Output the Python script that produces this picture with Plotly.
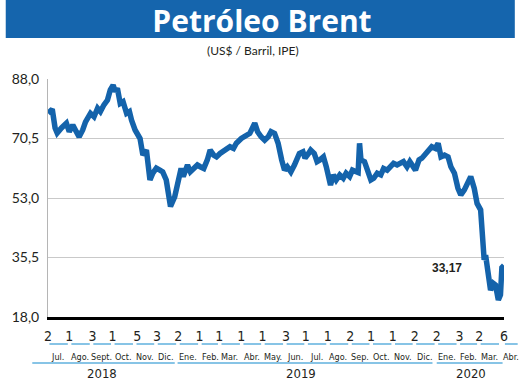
import plotly.graph_objects as go
import pandas as pd

# ---------------- data ----------------
dates = [
    "2018-07-02", "2018-07-08", "2018-07-12", "2018-07-15", "2018-07-21", "2018-07-28",
    "2018-08-01", "2018-08-06", "2018-08-11", "2018-08-15", "2018-08-20", "2018-08-24", "2018-08-31",
    "2018-09-05", "2018-09-10", "2018-09-14", "2018-09-19", "2018-09-24", "2018-09-28",
    "2018-10-02", "2018-10-05", "2018-10-08", "2018-10-12", "2018-10-16", "2018-10-21", "2018-10-25", "2018-10-28",
    "2018-11-02", "2018-11-09", "2018-11-13", "2018-11-18", "2018-11-23", "2018-11-27",
    "2018-12-02", "2018-12-07", "2018-12-11", "2018-12-16", "2018-12-22", "2018-12-28",
    "2019-01-03", "2019-01-06", "2019-01-09", "2019-01-15", "2019-01-19", "2019-01-24", "2019-01-29",
    "2019-02-02", "2019-02-07", "2019-02-12", "2019-02-16", "2019-02-21", "2019-02-25",
    "2019-03-02", "2019-03-09", "2019-03-16", "2019-03-21", "2019-03-25",
    "2019-04-01", "2019-04-08", "2019-04-13", "2019-04-20", "2019-04-24", "2019-04-29",
    "2019-05-04", "2019-05-09", "2019-05-13", "2019-05-18", "2019-05-23", "2019-05-28",
    "2019-06-01", "2019-06-05", "2019-06-10", "2019-06-15", "2019-06-19", "2019-06-22", "2019-06-27", "2019-06-30",
    "2019-07-05", "2019-07-08", "2019-07-13", "2019-07-17", "2019-07-21", "2019-07-26", "2019-07-30",
    "2019-08-02", "2019-08-05", "2019-08-09", "2019-08-13", "2019-08-18", "2019-08-23", "2019-08-27",
    "2019-09-01", "2019-09-05", "2019-09-10", "2019-09-13", "2019-09-15", "2019-09-17", "2019-09-22", "2019-09-26",
    "2019-10-01", "2019-10-05", "2019-10-10", "2019-10-15", "2019-10-19", "2019-10-24", "2019-10-29",
    "2019-11-02", "2019-11-07", "2019-11-12", "2019-11-16", "2019-11-21", "2019-11-25",
    "2019-12-03", "2019-12-08", "2019-12-12", "2019-12-17", "2019-12-22", "2019-12-26", "2019-12-31",
    "2020-01-04", "2020-01-06", "2020-01-08", "2020-01-13", "2020-01-18", "2020-01-22", "2020-01-27",
    "2020-02-01", "2020-02-05", "2020-02-10", "2020-02-14", "2020-02-19", "2020-02-24", "2020-02-28",
    "2020-03-04", "2020-03-06", "2020-03-09", "2020-03-11", "2020-03-13", "2020-03-16", "2020-03-18",
    "2020-03-22", "2020-03-25", "2020-03-29",
    "2020-04-01", "2020-04-02", "2020-04-03", "2020-04-06",
]
prices = [
    77.9, 79.1, 73.6, 72.1, 73.6, 75.0,
    72.5, 74.5, 72.5, 71.0, 73.0, 75.4, 77.9,
    76.9, 79.4, 78.4, 80.4, 81.8, 84.8,
    86.2, 84.3, 85.3, 80.8, 81.3, 77.9, 78.4, 75.9,
    73.0, 70.5, 65.6, 67.1, 58.3, 60.3,
    61.8, 61.2, 60.7, 58.3, 50.5, 53.4,
    58.3, 61.7, 59.3, 62.7, 60.7, 61.7, 62.7,
    62.2, 61.7, 64.2, 67.1, 65.6, 65.1,
    66.1, 67.1, 68.1, 67.6, 69.1,
    70.5, 71.5, 72.0, 75.0, 72.5, 71.0,
    70.0, 71.0, 72.5, 72.0, 69.1, 64.2,
    61.2, 62.2, 60.7, 62.7, 64.7, 66.1, 66.6, 64.7,
    66.1, 67.1, 66.1, 63.7, 64.2, 65.1, 62.2,
    59.8, 56.8, 59.8, 58.3, 59.8, 58.8, 60.3,
    59.3, 61.2, 60.7, 60.5, 69.1, 64.2, 63.7, 61.7,
    58.3, 58.8, 60.3, 59.8, 61.7, 61.2, 62.2,
    63.2, 62.7, 63.2, 63.7, 62.2, 63.7,
    61.2, 64.2, 64.7, 66.1, 67.1, 68.1, 67.6,
    69.1, 67.1, 65.1, 65.6, 65.1, 62.2, 60.3,
    55.8, 53.9, 55.4, 57.3, 59.3, 55.8, 51.4,
    49.5, 40.6, 34.8, 36.2, 32.8, 28.9, 25.9,
    27.9, 27.4, 23.0,
    24.5, 28.5, 32.5, 33.17,
]

tick_dates = [
    "2018-07-02", "2018-08-01", "2018-09-03", "2018-10-01", "2018-11-05", "2018-12-03",
    "2019-01-02", "2019-02-01", "2019-03-01", "2019-04-01", "2019-05-01", "2019-06-03",
    "2019-07-01", "2019-08-01", "2019-09-02", "2019-10-01", "2019-11-01", "2019-12-02",
    "2020-01-02", "2020-02-03", "2020-03-02", "2020-04-06",
]
tick_text = [str(int(d[-2:])) for d in tick_dates]

month_labels = ["Jul.", "Ago.", "Sept.", "Oct.", "Nov.", "Dic.", "Ene.", "Feb.", "Mar.", "Abr.",
                "May.", "Jun.", "Jul.", "Ago.", "Sep.", "Oct.", "Nov.", "Dic.", "Ene.", "Feb.",
                "Mar.", "Abr."]
year_labels = ["2018", "2019", "2020"]

y_ticks = [18.0, 35.5, 53.0, 70.5, 88.0]
y_tick_text = [f"{v:.1f}".replace(".", ",") for v in y_ticks]

# ---------------- styling ----------------
BLUE = "#1463ab"
BANNER = "#1565ad"
UNDER = "#5fb0de"
TXT = "#231f20"
NUM_FONT = "Liberation Sans Narrow, DejaVu Sans Condensed, Liberation Sans, sans-serif"
LAB_FONT = "Lato, Liberation Sans, sans-serif"

x_start, x_end = dates[0], dates[-1]

fig = go.Figure()
fig.add_trace(go.Scatter(
    x=pd.to_datetime(dates), y=prices, mode="lines",
    line=dict(color=BLUE, width=5.5, shape="linear"),
    hoverinfo="skip", showlegend=False,
))

H_PLOT = 238.0
def py(px_from_bottom):
    return px_from_bottom / H_PLOT

shapes = []
# banner
shapes.append(dict(type="rect", xref="paper", yref="paper",
                   x0=-43 / 464, x1=475 / 464, y0=py(317 - 38), y1=py(317 + 5),
                   fillcolor=BANNER, line=dict(width=0), layer="below"))

# month underlines
months = pd.date_range("2018-07-01", "2020-04-01", freq="MS")
y_mu = py(317 - 344)
for i, m in enumerate(months):
    nxt = m + pd.offsets.MonthBegin(1)
    s = m + pd.Timedelta(days=3)
    e = nxt - pd.Timedelta(days=2)
    if i == len(months) - 1:
        shapes.append(dict(type="line", xref="paper", yref="paper", x0=1.002, x1=1.03,
                           y0=y_mu, y1=y_mu, line=dict(color=UNDER, width=1.5)))
    else:
        shapes.append(dict(type="line", xref="x", yref="paper", x0=s, x1=e,
                           y0=y_mu, y1=y_mu, line=dict(color=UNDER, width=1.5)))

# year underlines
y_yu = py(317 - 363)
shapes.append(dict(type="line", xref="paper", yref="paper", x0=-16 / 464, x1=0,
                   y0=y_yu, y1=y_yu, line=dict(color=UNDER, width=1.5)))
for s, e in [("2018-07-01", "2018-12-28"), ("2019-01-01", "2019-12-27"), ("2020-01-02", "2020-04-04")]:
    shapes.append(dict(type="line", xref="x", yref="paper", x0=s, x1=e,
                       y0=y_yu, y1=y_yu, line=dict(color=UNDER, width=1.5)))

annotations = []
# subtitle
annotations.append(dict(text="(US$ / Barril, IPE)", xref="paper", yref="paper",
                        x=(252 - 43) / 464, y=py(317 - 50), showarrow=False,
                        xanchor="center", yanchor="middle",
                        font=dict(family=LAB_FONT, size=12, color=TXT)))
# month labels
y_ml = py(317 - 357)
for i, (m, lab) in enumerate(zip(months, month_labels)):
    if i == len(months) - 1:
        annotations.append(dict(text=lab, xref="x", yref="paper", x=x_end, y=y_ml,
                                xshift=7, showarrow=False, xanchor="center", yanchor="middle",
                                font=dict(family=NUM_FONT, size=9, color=TXT)))
    else:
        annotations.append(dict(text=lab, xref="x", yref="paper",
                                x=m + pd.Timedelta(days=15), y=y_ml,
                                showarrow=False, xanchor="center", yanchor="middle",
                                font=dict(family=NUM_FONT, size=9, color=TXT)))
# year labels
y_yl = py(317 - 373.5)
for lab, xd in zip(year_labels, ["2018-09-16", "2019-06-24", "2020-02-19"]):
    annotations.append(dict(text=lab, xref="x", yref="paper", x=xd, y=y_yl,
                            showarrow=False, xanchor="center", yanchor="middle",
                            font=dict(family=NUM_FONT, size=13, color=TXT)))
# last value label
annotations.append(dict(text="<b>" + f"{prices[-1]:.2f}".replace(".", ",") + "</b>",
                        xref="x", yref="y", x=x_end, y=prices[-1],
                        xanchor="right", yanchor="middle", xshift=-40, yshift=-3,
                        showarrow=False,
                        font=dict(family="Liberation Sans, sans-serif", size=12, color=TXT)))

fig.update_layout(
    width=520, height=381,
    margin=dict(l=43, r=13, t=79, b=64),
    paper_bgcolor="white", plot_bgcolor="white",
    title=dict(text="Petróleo Brent", x=262 / 520, xanchor="center", xref="container",
               y=1 - 21 / 381, yanchor="middle", yref="container",
               font=dict(family="Open Sans, Lato, sans-serif", size=30, color="white", weight="bold")),
    shapes=shapes, annotations=annotations,
    xaxis=dict(
        type="date", range=[x_start, x_end],
        tickmode="array", tickvals=tick_dates, ticktext=tick_text,
        ticks="", showgrid=False, zeroline=False,
        showline=True, linecolor="black", linewidth=3,
        tickfont=dict(family=NUM_FONT, size=14, color=TXT),
        ticklabelstandoff=4,
    ),
    yaxis=dict(
        range=[18, 88], tickmode="array", tickvals=y_ticks, ticktext=y_tick_text,
        ticks="", showgrid=True, gridcolor="#c9c9c9", gridwidth=1,
        zeroline=False, showline=True, linecolor="#b5b5b5", linewidth=1,
        tickfont=dict(family=LAB_FONT, size=14, color=TXT),
        ticklabelstandoff=5,
    ),
)

fig.write_html("out.html", config={"displayModeBar": False},
               post_script="document.body.style.margin='0';document.body.style.overflow='hidden';")
